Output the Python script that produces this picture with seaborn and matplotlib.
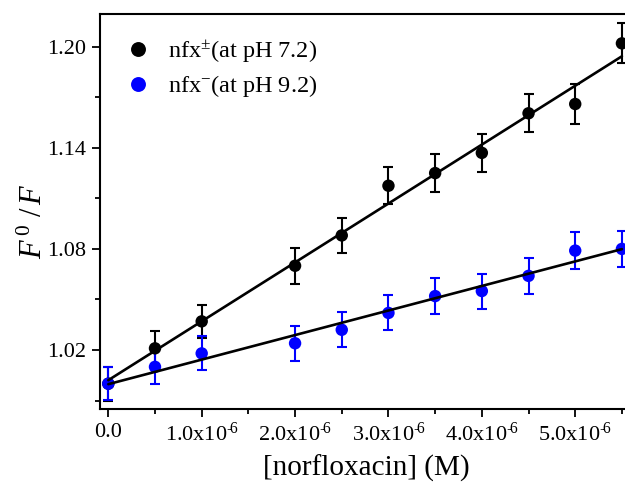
import numpy as np
import pandas as pd
import matplotlib
matplotlib.use("Agg")
import matplotlib.pyplot as plt
import seaborn as sns

# Stern-Volmer data: relative fluorescence vs. norfloxacin concentration
conc_M = [0.0, 0.5e-6, 1.0e-6, 2.0e-6, 2.5e-6, 3.0e-6, 3.5e-6, 4.0e-6, 4.5e-6, 5.0e-6, 5.5e-6]
ratio_ph72 = [1.000, 1.021, 1.037, 1.070, 1.088, 1.1175, 1.125, 1.137, 1.1605, 1.166, 1.202]
err_ph72 = [0.0100, 0.0105, 0.0100, 0.0107, 0.0105, 0.0110, 0.0112, 0.0114, 0.0114, 0.0118, 0.0119]
ratio_ph92 = [1.000, 1.010, 1.018, 1.024, 1.032, 1.042, 1.052, 1.055, 1.064, 1.079, 1.080]
err_ph92 = [0.0099, 0.0099, 0.0101, 0.0103, 0.0103, 0.0104, 0.0106, 0.0104, 0.0106, 0.0109, 0.0107]

series_labels = [r"nfx$^{\pm}$(at pH 7.2)", r"nfx$^{-}$(at pH 9.2)"]
series_colors = ["#000000", "#0000ff"]

xtick_values = [0.0, 1.0e-6, 2.0e-6, 3.0e-6, 4.0e-6, 5.0e-6]
xtick_labels = ["0.0", "1.0x10$^{\u2010\\!6}$", "2.0x10$^{\u2010\\!6}$", "3.0x10$^{\u2010\\!6}$",
                "4.0x10$^{\u2010\\!6}$", "5.0x10$^{\u2010\\!6}$"]
ytick_values = [1.02, 1.08, 1.14, 1.20]
ytick_labels = ["1.02", "1.08", "1.14", "1.20"]

sns.set_theme(style="ticks")
plt.rcParams["font.family"] = ["Liberation Serif", "DejaVu Serif"]
plt.rcParams["mathtext.fontset"] = "custom"
plt.rcParams["mathtext.rm"] = "Liberation Serif"
plt.rcParams["mathtext.it"] = "Liberation Serif:italic"
plt.rcParams["mathtext.bf"] = "Liberation Serif:bold"
for key in ["text.color", "axes.labelcolor", "xtick.color", "ytick.color",
            "xtick.labelcolor", "ytick.labelcolor", "axes.edgecolor"]:
    plt.rcParams[key] = "black"

df = pd.DataFrame({
    "conc": conc_M * 2,
    "ratio": ratio_ph72 + ratio_ph92,
    "err": err_ph72 + err_ph92,
    "series": [series_labels[0]] * len(conc_M) + [series_labels[1]] * len(conc_M),
})

fig = plt.figure(figsize=(6.25, 4.84), dpi=100)
ax = fig.add_axes([0.16, 0.155, 0.853, 0.816])

for lab, col in zip(series_labels, series_colors):
    sub = df[df["series"] == lab]
    ax.errorbar(sub["conc"], sub["ratio"], yerr=sub["err"], fmt="none",
                ecolor=col, elinewidth=1.5, capsize=3.6, capthick=1.5, zorder=2)

sns.scatterplot(data=df, x="conc", y="ratio", hue="series", palette=series_colors,
                hue_order=series_labels, s=80, linewidth=0, ax=ax, zorder=3,
                legend=True)

for lab in series_labels:
    sub = df[df["series"] == lab]
    sns.regplot(data=sub, x="conc", y="ratio", scatter=False, ci=None, truncate=True,
                color="black", line_kws={"linewidth": 1.9, "zorder": 4}, ax=ax)

ax.set_xlim(-0.0889e-6, 5.62e-6)
ax.set_ylim(0.985, 1.2194)
ax.set_xticks(xtick_values)
ax.set_xticklabels(xtick_labels)
ax.set_xticks(np.arange(0.5e-6, 5.6e-6, 1.0e-6), minor=True)
ax.set_yticks(ytick_values)
ax.set_yticklabels(ytick_labels)
ax.set_yticks([0.99, 1.05, 1.11, 1.17], minor=True)

ax.tick_params(axis="both", which="major", direction="out", length=6, width=1.3,
               labelsize=16, colors="black", pad=4)
ax.tick_params(axis="both", which="minor", direction="out", length=3.5, width=1.3)
for sp in ax.spines.values():
    sp.set_linewidth(1.5)
    sp.set_color("black")
ax.spines["right"].set_visible(False)

ax.set_xlabel("[norfloxacin] (M)", fontsize=21, labelpad=6)
ax.set_ylabel(r"$F^{\,0}\,\,/\,F$", fontsize=22, labelpad=4)
ax.yaxis.set_label_coords(-0.095, 0.475)

leg = ax.legend(loc="upper left", bbox_to_anchor=(-0.02, 1.0), frameon=False,
                fontsize=17.5, handletextpad=0.25, borderaxespad=0.6,
                labelspacing=0.35, markerscale=1.2)

fig.savefig("out.png", dpi=100)
